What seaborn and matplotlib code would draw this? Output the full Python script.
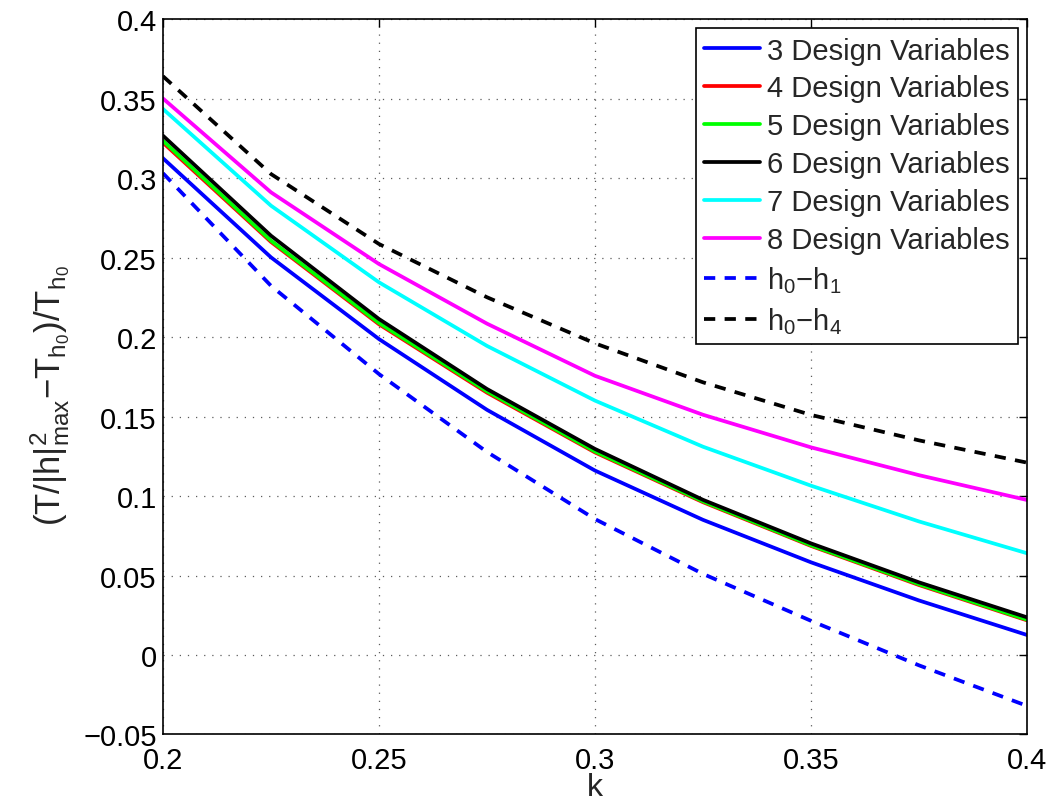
import matplotlib
matplotlib.use("Agg")
import matplotlib.pyplot as plt
import seaborn as sns
import pandas as pd

# Wave-number samples
k = [0.2, 0.225, 0.25, 0.275, 0.3, 0.325, 0.35, 0.375, 0.4]

# Normalised amplification for each optimised design
dv3 = [0.3124, 0.2501, 0.1987, 0.1542, 0.1160, 0.0850, 0.0583, 0.0343, 0.0126]
dv4 = [0.3222, 0.2598, 0.2080, 0.1650, 0.1274, 0.0961, 0.0686, 0.0440, 0.0218]
dv5 = [0.3234, 0.2606, 0.2088, 0.1658, 0.1280, 0.0966, 0.0690, 0.0445, 0.0222]
dv6 = [0.3266, 0.2637, 0.2113, 0.1673, 0.1296, 0.0976, 0.0702, 0.0457, 0.0237]
dv7 = [0.3434, 0.2826, 0.2344, 0.1944, 0.1600, 0.1310, 0.1065, 0.0840, 0.0640]
dv8 = [0.3500, 0.2910, 0.2459, 0.2084, 0.1756, 0.1511, 0.1306, 0.1131, 0.0975]
# Reference bathymetries
h0_h1 = [0.3030, 0.2322, 0.1767, 0.1277, 0.0855, 0.0510, 0.0215, -0.0065, -0.0320]
h0_h4 = [0.3640, 0.3025, 0.2585, 0.2250, 0.1960, 0.1715, 0.1510, 0.1350, 0.1210]

labels = ["3 Design Variables", "4 Design Variables", "5 Design Variables",
          "6 Design Variables", "7 Design Variables", "8 Design Variables",
          "h$_0$\u2212h$_1$", "h$_0$\u2212h$_4$"]
series = [dv3, dv4, dv5, dv6, dv7, dv8, h0_h1, h0_h4]
colors = ["#0000ff", "#ff0000", "#00ff00", "#000000", "#00ffff", "#ff00ff",
          "#0000ff", "#000000"]
dashed = [False, False, False, False, False, False, True, True]

xticks = [0.2, 0.25, 0.3, 0.35, 0.4]
xticklabels = ["0.2", "0.25", "0.3", "0.35", "0.4"]
yticks = [-0.05, 0, 0.05, 0.1, 0.15, 0.2, 0.25, 0.3, 0.35, 0.4]
yticklabels = ["\u22120.05", "0", "0.05", "0.1", "0.15", "0.2", "0.25", "0.3",
               "0.35", "0.4"]

FS = 21.0

sns.set_theme(style="white")
plt.rcParams["font.family"] = ["Liberation Sans", "DejaVu Sans"]
plt.rcParams["mathtext.fontset"] = "custom"
plt.rcParams["mathtext.rm"] = "Liberation Sans"
plt.rcParams["mathtext.it"] = "Liberation Sans"
plt.rcParams["mathtext.default"] = "regular"

fig = plt.figure(figsize=(10.53, 8.04), dpi=100)
ax = fig.add_axes([0.1548, 0.0852, 0.8205, 0.8899])

frames = []
for lab, vals in zip(labels, series):
    frames.append(pd.DataFrame({"k": k, "value": vals, "series": lab}))
df = pd.concat(frames, ignore_index=True)

for lab, col, dsh in zip(labels, colors, dashed):
    sub = df[df["series"] == lab]
    sns.lineplot(data=sub, x="k", y="value", ax=ax, color=col, linewidth=2.7,
                 label=lab, sort=False)
    line = ax.get_lines()[-1]
    if dsh:
        line.set_dashes((3.0, 2.5))

ax.set_xlim(0.2, 0.4)
ax.set_ylim(-0.05, 0.4)
ax.set_xticks(xticks)
ax.set_xticklabels(xticklabels)
ax.set_yticks(yticks)
ax.set_yticklabels(yticklabels)

ax.grid(True, color="#333333", linestyle=(0, (1, 5.5)), linewidth=0.9, alpha=0.8)
ax.tick_params(direction="in", length=6, width=1.0, top=True, right=True,
               labelsize=FS, colors="black", pad=4.5)
ax.tick_params(axis="x", pad=8.5)
for sp in ax.spines.values():
    sp.set_visible(True)
    sp.set_color("black")
    sp.set_linewidth(1.2)

ax.set_xlabel("k", fontsize=23, labelpad=-2)
ax.set_ylabel("(T/|h|$^2_{max}$\u2212T$_{h_0}$)/T$_{h_0}$", fontsize=25)
ax.yaxis.set_label_coords(-0.104, 0.475)

leg = ax.legend(loc="upper right", fontsize=FS, frameon=True, fancybox=False,
                edgecolor="black", framealpha=1.0, borderaxespad=0.32,
                handlelength=1.9, handletextpad=0.25, labelspacing=0.34,
                borderpad=0.28)
leg.get_frame().set_linewidth(1.2)

fig.savefig("out.png", dpi=100)
